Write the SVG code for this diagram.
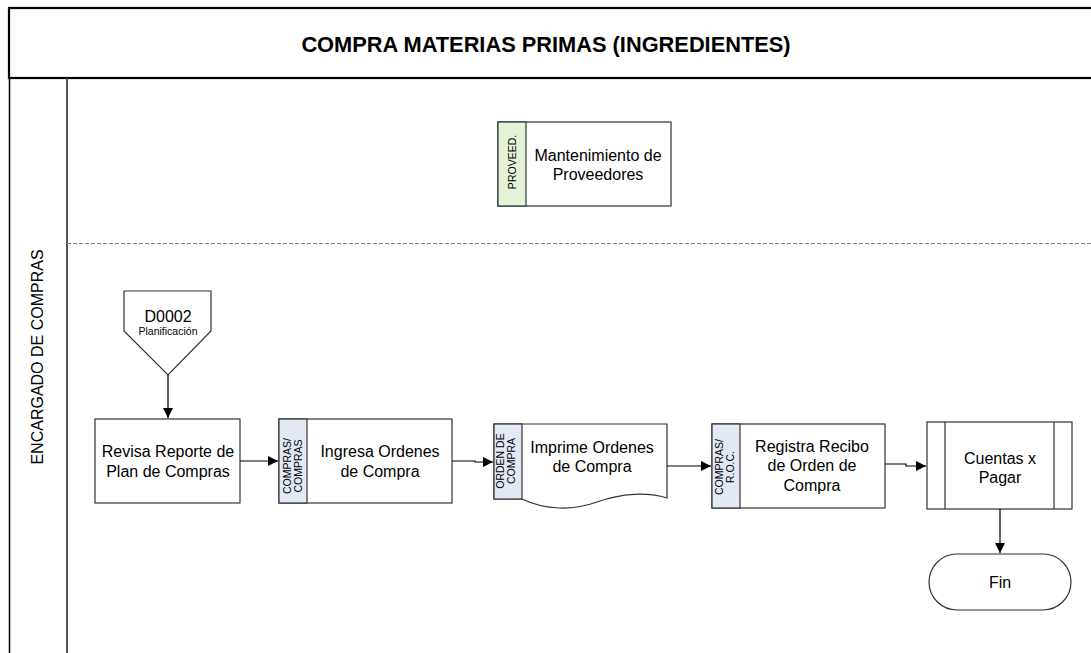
<svg xmlns="http://www.w3.org/2000/svg" width="1091" height="653" viewBox="0 0 1091 653">
  <style>
    .t { font-family: "Liberation Sans", Arial, sans-serif; font-size: 16px; fill: #000; text-anchor: middle; }
    .s { font-family: "Liberation Sans", Arial, sans-serif; font-size: 10.5px; fill: #000; text-anchor: middle; }
    .box { fill: #fff; stroke: #333; stroke-width: 1.2; }
    .stripB { fill: #e2e8f4; stroke: #333; stroke-width: 1.2; }
    .stripG { fill: #e5f4d8; stroke: #333; stroke-width: 1.2; }
    .conn { fill: none; stroke: #000; stroke-width: 1.2; marker-end: url(#arr); }
  </style>
  <defs>
    <marker id="arr" viewBox="0 0 10 10" refX="10" refY="5" markerWidth="10" markerHeight="10" markerUnits="userSpaceOnUse" orient="auto">
      <path d="M0,0 L10,5 L0,10 z" fill="#000"/>
    </marker>
  </defs>

  <rect width="1091" height="653" fill="#fff"/>

  <!-- pool frame and title -->
  <g id="pool">
    <rect x="9" y="8" width="1090" height="70" fill="#fff" stroke="#000" stroke-width="2.2"/>
    <text x="546" y="52" class="t" style="font-weight:bold;font-size:21.8px">COMPRA MATERIAS PRIMAS (INGREDIENTES)</text>
    <line x1="9.5" y1="78" x2="9.5" y2="653" stroke="#000" stroke-width="1.5"/>
    <line x1="67" y1="78" x2="67" y2="653" stroke="#444" stroke-width="1.8"/>
    <line x1="67" y1="243.5" x2="1091" y2="243.5" stroke="#808080" stroke-width="1.2" stroke-dasharray="4,2"/>
    <text transform="translate(43,357) rotate(-90)" class="t">ENCARGADO DE COMPRAS</text>
  </g>

  <!-- Mantenimiento de Proveedores -->
  <g id="proveedores">
    <rect x="498" y="122" width="173" height="84" class="box"/>
    <rect x="498" y="122" width="28" height="84" class="stripG"/>
    <text transform="translate(516,162) rotate(-90)" class="s">PROVEED.</text>
    <text x="598" y="161" class="t">Mantenimiento de</text>
    <text x="598" y="180" class="t">Proveedores</text>
  </g>

  <!-- Off-page reference D0002 -->
  <g id="d0002">
    <path d="M124,291 L211,291 L211,331 L168,375 L124,331 Z" class="box"/>
    <text x="168" y="322" class="t">D0002</text>
    <text x="168" y="335" class="s">Planificación</text>
  </g>

  <!-- Revisa Reporte de Plan de Compras -->
  <g id="revisa">
    <rect x="95" y="419" width="145" height="84" class="box"/>
    <text x="168" y="457" class="t">Revisa Reporte de</text>
    <text x="168" y="477" class="t">Plan de Compras</text>
  </g>

  <!-- Ingresa Ordenes de Compra -->
  <g id="ingresa">
    <rect x="279" y="419" width="173" height="84" class="box"/>
    <rect x="279" y="419" width="28" height="84" class="stripB"/>
    <text transform="translate(291,466) rotate(-90)" class="s">COMPRAS/</text>
    <text transform="translate(302,466) rotate(-90)" class="s">COMPRAS</text>
    <text x="380" y="457" class="t">Ingresa Ordenes</text>
    <text x="380" y="477" class="t">de Compra</text>
  </g>

  <!-- Imprime Ordenes de Compra (document) -->
  <g id="imprime">
    <path d="M494,424 L667,424 L667,498 C648,492 622,493 597,502 C572,511 545,510 522,499 L494,499 Z" class="box"/>
    <rect x="494" y="424" width="28" height="75" class="stripB"/>
    <text transform="translate(504,461) rotate(-90)" class="s">ORDEN DE</text>
    <text transform="translate(515,461) rotate(-90)" class="s">COMPRA</text>
    <text x="592" y="453" class="t">Imprime Ordenes</text>
    <text x="592" y="472" class="t">de Compra</text>
  </g>

  <!-- Registra Recibo de Orden de Compra -->
  <g id="registra">
    <rect x="712" y="424" width="173" height="84" class="box"/>
    <rect x="712" y="424" width="28" height="84" class="stripB"/>
    <text transform="translate(723,467) rotate(-90)" class="s">COMPRAS/</text>
    <text transform="translate(734,467) rotate(-90)" class="s">R.O.C.</text>
    <text x="812" y="452" class="t">Registra Recibo</text>
    <text x="812" y="471" class="t">de Orden de</text>
    <text x="812" y="491" class="t">Compra</text>
  </g>

  <!-- Cuentas x Pagar (predefined process) -->
  <g id="cuentas">
    <rect x="927" y="422" width="145" height="87" class="box"/>
    <line x1="945" y1="422" x2="945" y2="509" stroke="#333" stroke-width="1.2"/>
    <line x1="1054" y1="422" x2="1054" y2="509" stroke="#333" stroke-width="1.2"/>
    <text x="1000" y="464" class="t">Cuentas x</text>
    <text x="1000" y="483" class="t">Pagar</text>
  </g>

  <!-- Fin -->
  <g id="fin">
    <rect x="929" y="554" width="142" height="56" rx="28" ry="28" class="box"/>
    <text x="1000" y="588" class="t">Fin</text>
  </g>

  <!-- connectors -->
  <g id="connectors">
    <path d="M168,375 L168,418" class="conn"/>
    <path d="M240,461 L278,461" class="conn"/>
    <path d="M452,461 L475,461 L475,462 L493,462" class="conn"/>
    <path d="M667,466 L711,466" class="conn"/>
    <path d="M885,464 L906,464 L906,466 L926,466" class="conn"/>
    <path d="M1000,509 L1000,553" class="conn"/>
  </g>
</svg>
